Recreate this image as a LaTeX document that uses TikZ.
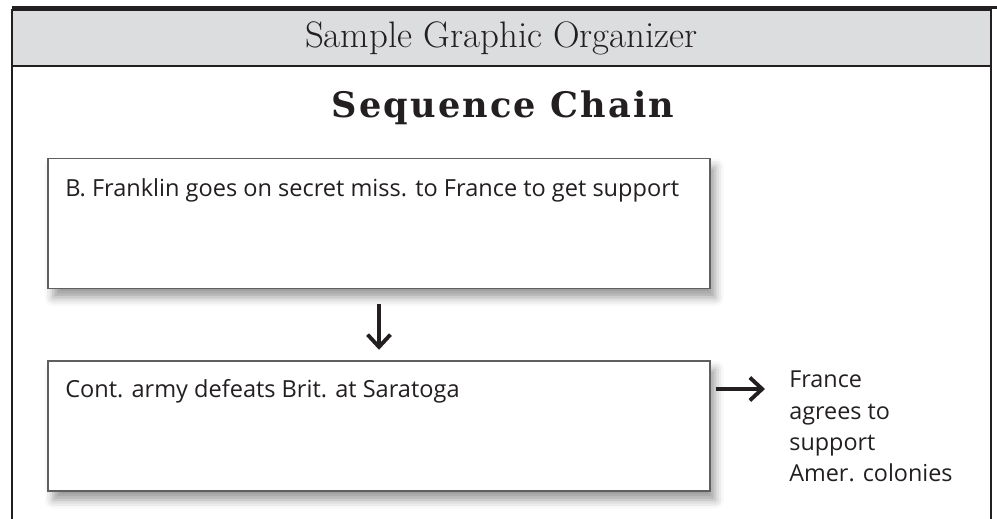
\documentclass[tikz,border=0pt]{standalone}
\usepackage{fontspec}
\usepackage{tikz}
\usetikzlibrary{arrows.meta,shadows.blur}

\newfontfamily\handfont{Open Sans}
\newfontfamily\chainfont[LetterSpace=6]{DejaVu Serif}

\definecolor{framegray}{RGB}{35,31,32}
\definecolor{bandgray}{RGB}{220,221,223}
\definecolor{boxline}{RGB}{95,95,95}

\begin{document}
\begin{tikzpicture}[x=0.02cm, y=-0.02cm,
  chainbox/.style={draw=boxline, line width=0.8pt, fill=white, minimum width=13.24cm, minimum height=2.6cm,
    blur shadow={shadow xshift=3pt, shadow yshift=-5pt, shadow blur radius=5pt}},
  hand/.style={font=\handfont\fontsize{13.4}{16}\selectfont, inner sep=0pt, text=framegray},
  flow/.style={-{Straight Barb[length=7pt,width=13pt]}, line width=2.2pt, draw=framegray}]
\useasboundingbox (0,0) rectangle (997,519);
  % Header band
  \node[draw=framegray, fill=bandgray, line width=0.6pt, minimum width=19.58cm, minimum height=1.12cm,
    inner sep=0pt, font=\fontsize{21}{25}\selectfont, text=framegray] (band) at (501.5,38) {Sample Graphic Organizer};
  \coordinate (rimtop) at (997,0);
  \coordinate (rimbot) at (0,519);
  \draw[framegray, line width=1.8pt] ([yshift=1pt]band.north west) -- ([yshift=1pt]band.north west -| rimtop);
  \draw[framegray, line width=1.1pt] (band.north west) -- (band.north west |- rimbot);
  \draw[framegray, line width=1.1pt] (band.north east) -- (band.north east |- rimbot);
  % Title
  \node[font=\chainfont\bfseries\fontsize{20}{24}\selectfont, text=framegray, anchor=base] (title) at (503,118) {Sequence Chain};
  % Chain boxes
  \node[chainbox] (first) at (379,223.5) {};
  \node[hand, anchor=base west] (firsttext) at (65,197) {B. Franklin goes on secret miss. to France to get support};
  \node[chainbox] (second) at (379,426) {};
  \node[hand, anchor=base west] (secondtext) at (65,398) {Cont. army defeats Brit. at Saratoga};
  % Result
  \node[hand, font=\handfont\fontsize{13.3}{17.9}\selectfont, align=left, anchor=base west] (result) at (789,482)
    {France\\agrees to\\support\\Amer. colonies};
  \coordinate (resulttip) at (765,389);
  % Arrows
  \draw[flow, shorten <=8.5pt, shorten >=6pt] (first.south) -- (second.north);
  \draw[flow, shorten <=3pt] (second.east |- resulttip) -- (resulttip);
\end{tikzpicture}
\end{document}
